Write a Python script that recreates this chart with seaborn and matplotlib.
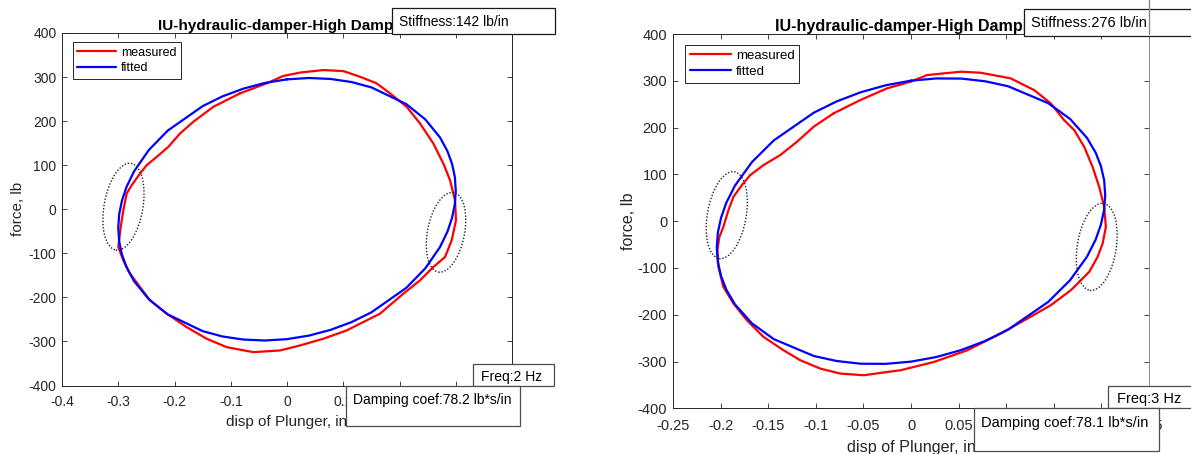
import matplotlib
matplotlib.use("Agg")
import matplotlib.pyplot as plt
import seaborn as sns
import pandas as pd
from matplotlib.patches import Ellipse, Rectangle
from matplotlib.lines import Line2D
from matplotlib.transforms import ScaledTranslation

# ---------------- data ----------------
# Left panel (2 Hz)
left_meas_disp = [-0.0836, -0.0361, -0.0071, 0.0231, 0.0645, 0.1001, 0.1298, 0.1595, 0.1831, 0.2128,
                  0.2364, 0.2601, 0.2779, 0.2898, 0.2987, 0.3004, 0.2928, 0.2809, 0.2601, 0.2364,
                  0.2068, 0.1653, 0.1239, 0.1061, 0.0645, 0.0231, -0.0124, -0.0599, -0.1072, -0.1428,
                  -0.1783, -0.2139, -0.2436, -0.2613, -0.2791, -0.2910, -0.2999, -0.2956, -0.2910, -0.2850,
                  -0.2761, -0.2613, -0.2494, -0.2316, -0.2110, -0.1902, -0.1666, -0.1310, -0.0836]
left_meas_force = [263.0, 285.7, 302.3, 310.2, 315.9, 313.6, 300.7, 285.7, 263.0, 232.5,
                   194.8, 149.3, 103.9, 65.9, 20.5, -25.0, -70.5, -108.4, -131.1, -161.4,
                   -191.6, -237.0, -263.6, -275.0, -293.9, -309.1, -320.5, -324.3, -313.0, -293.9,
                   -267.5, -237.0, -206.8, -176.6, -146.1, -115.9, -85.7, -40.2, -2.3, 35.7,
                   54.5, 81.1, 100.0, 118.9, 141.6, 172.0, 198.4, 232.5, 263.0]
left_fit_disp = [0.0, 0.0392, 0.0776, 0.1148, 0.15, 0.2121, 0.2458, 0.2719, 0.2853, 0.2934,
                 0.2984, 0.3, 0.2984, 0.2934, 0.2853, 0.2719, 0.2458, 0.2121, 0.15, 0.1148,
                 0.0776, 0.0392, 0.0, -0.0392, -0.0776, -0.1148, -0.15, -0.2121, -0.2458, -0.2719,
                 -0.2853, -0.2934, -0.2984, -0.3, -0.2984, -0.2934, -0.2853, -0.2719, -0.2458, -0.2121,
                 -0.15, -0.1148, -0.0776, -0.0392, 0.0]
left_fit_force = [294.8, 297.9, 295.7, 288.7, 276.6, 238.6, 204.0, 163.2, 131.6, 103.0,
                  73.2, 42.6, 11.6, -19.6, -50.6, -86.0, -134.2, -178.4, -234.0, -256.1,
                  -273.7, -286.7, -294.8, -297.9, -295.7, -288.7, -276.6, -238.6, -204.0, -163.2,
                  -131.6, -103.0, -73.2, -42.6, -11.6, 19.6, 50.6, 86.0, 134.2, 178.4,
                  234.0, 256.1, 273.7, 286.7, 294.8]

# Right panel (3 Hz)
right_meas_disp = [-0.0813, -0.0532, -0.0251, -0.0005, 0.0171, 0.0521, 0.0732, 0.1047, 0.1293, 0.1468,
                   0.1608, 0.1714, 0.1819, 0.1907, 0.1977, 0.2029, 0.2047, 0.2013, 0.1960, 0.1872,
                   0.1679, 0.1468, 0.1223, 0.0942, 0.0592, 0.0240, -0.0111, -0.0251, -0.0497, -0.0742,
                   -0.0953, -0.1163, -0.1339, -0.1549, -0.1724, -0.1865, -0.1971, -0.2023, -0.2034, -0.2013,
                   -0.1971, -0.1918, -0.1865, -0.1777, -0.1689, -0.1549, -0.1374, -0.1198, -0.1023, -0.0813]
right_meas_force = [230.4, 258.8, 283.9, 298.0, 312.3, 319.4, 317.2, 305.2, 280.2, 251.8,
                    216.0, 194.7, 158.9, 116.1, 73.4, 30.6, -12.2, -47.7, -76.4, -108.4,
                    -147.6, -179.7, -208.1, -240.2, -275.9, -301.0, -318.7, -322.4, -329.4, -325.8,
                    -315.1, -297.3, -275.9, -247.5, -211.8, -176.0, -140.5, -97.8, -62.0, -33.6,
                    -12.2, 23.5, 52.0, 77.0, 98.4, 119.8, 141.2, 169.6, 201.7, 230.4]
right_fit_disp = [0.0, 0.0266, 0.0528, 0.0781, 0.102, 0.1442, 0.1671, 0.1849, 0.1940, 0.1995,
                  0.2029, 0.204, 0.2029, 0.1995, 0.1940, 0.1849, 0.1671, 0.1442, 0.102, 0.0781,
                  0.0528, 0.0266, 0.0, -0.0266, -0.0528, -0.0781, -0.102, -0.1442, -0.1671, -0.1849,
                  -0.1940, -0.1995, -0.2029, -0.204, -0.2029, -0.1995, -0.1940, -0.1849, -0.1671, -0.1442,
                  -0.102, -0.0781, -0.0528, -0.0266, 0.0]
right_fit_force = [300.3, 305.0, 304.7, 298.9, 288.3, 252.1, 218.4, 177.9, 146.3, 117.5,
                   87.4, 56.3, 24.6, -7.3, -39.3, -75.9, -126.2, -172.5, -231.9, -255.9,
                   -275.5, -290.4, -300.3, -305.0, -304.7, -298.9, -288.3, -252.1, -218.4, -177.9,
                   -146.3, -117.5, -87.4, -56.3, -24.6, 7.3, 39.3, 75.9, 126.2, 172.5,
                   231.9, 255.9, 275.5, 290.4, 300.3]

# tick values / labels (labels hidden under the text boxes are left blank)
left_xticks = [-0.4, -0.3, -0.2, -0.1, 0.0, 0.1, 0.2, 0.3, 0.4]
left_xticklabels = ["-0.4", "-0.3", "-0.2", "-0.1", "0", "0.1", "", "", ""]
right_xticks = [-0.25, -0.2, -0.15, -0.1, -0.05, 0.0, 0.05, 0.1, 0.15, 0.2, 0.25]
right_xticklabels = ["-0.25", "-0.2", "-0.15", "-0.1", "-0.05", "0", "0.05", "", "", "", "0.25"]
yticks = [-400, -300, -200, -100, 0, 100, 200, 300, 400]
yticklabels = ["-400", "-300", "-200", "-100", "0", "100", "200", "300", "400"]

titles = ["IU-hydraulic-damper-High Damping", "IU-hydraulic-damper-High Damping"]
stiffness_texts = ["Stiffness:142 lb/in", "Stiffness:276 lb/in"]
freq_texts = ["Freq:2 Hz", "Freq:3 Hz"]
damping_texts = ["Damping coef:78.2 lb*s/in", "Damping coef:78.1 lb*s/in"]
# centres of the dotted marker ellipses (disp, force)
left_marks = [(-0.2907, 5.7), (0.2827, -52.3)]
right_marks = [(-0.1935, 12.8), (0.1951, -55.0)]

# ---------------- style ----------------
sns.set_theme(style="white")
plt.rcParams["font.family"] = ["Liberation Sans", "DejaVu Sans"]
plt.rcParams["axes.unicode_minus"] = False

W, H = 1191, 454
fig = plt.figure(figsize=(W / 100, H / 100), dpi=100)
TXT = "#262626"


def fig_rect(x0, y0, x1, y1):
    return [x0 / W, 1 - y1 / H, (x1 - x0) / W, (y1 - y0) / H]


def add_box(x0, y0, x1, y1, ec):
    r = Rectangle((x0 / W, 1 - y1 / H), (x1 - x0) / W, (y1 - y0) / H,
                  transform=fig.transFigure, facecolor="white", edgecolor=ec,
                  linewidth=0.9, zorder=5)
    fig.add_artist(r)


def add_label(x, y, s, size):
    fig.text(x / W, 1 - y / H, s, ha="left", va="center", fontsize=size,
             color="black", zorder=6)


def add_mark(ax, cx, cy, w_px, h_px, ang):
    tr = fig.dpi_scale_trans + ScaledTranslation(cx, cy, ax.transData)
    e = Ellipse((0, 0), w_px / 100, h_px / 100, angle=ang, transform=tr,
                fill=False, linestyle=(0, (1, 1.3)), linewidth=1.0,
                edgecolor="#222222", zorder=4)
    ax.add_artist(e)


panels = [
    dict(rect=(62, 33, 512, 385.5), s=1.0,
         meas=(left_meas_disp, left_meas_force), fit=(left_fit_disp, left_fit_force),
         xlim=(-0.4, 0.4), xt=left_xticks, xtl=left_xticklabels,
         leg=(72.7, 42.3), marks=left_marks, mark_sz=[(38.8, 88, -10), (37, 81, -11)],
         stiff=(392, 8.3, 554.5, 34, 399, 22.3),
         freq=(473.3, 364.3, 554, 386.3, 480.7, 377.5),
         damp=(345.7, 386.3, 520, 425.7, 352.7, 400),
         ylpad=2.5, xlpad=4.5, tpad=2.5),
    dict(rect=(673, 34, 1149, 408.3), s=1.056,
         meas=(right_meas_disp, right_meas_force), fit=(right_fit_disp, right_fit_force),
         xlim=(-0.25, 0.25), xt=right_xticks, xtl=right_xticklabels,
         leg=(685, 45), marks=right_marks, mark_sz=[(38.8, 88, -10), (39, 88, -9)],
         stiff=(1024, 9, 1196, 36, 1030.8, 23.3),
         freq=(1108.3, 385.7, 1196, 408.3, 1116.7, 399.5),
         damp=(974, 408.3, 1159.3, 451, 980.7, 423.3),
         ylpad=1.5, xlpad=5.5, tpad=2.3),
]

for i, p in enumerate(panels):
    ax = fig.add_axes(fig_rect(*p["rect"]))
    s = p["s"]
    mdf = pd.DataFrame({"disp": p["meas"][0], "force": p["meas"][1]})
    fdf = pd.DataFrame({"disp": p["fit"][0], "force": p["fit"][1]})
    sns.lineplot(data=mdf, x="disp", y="force", sort=False, estimator=None,
                 color="#ff0000", linewidth=1.6, label="measured", ax=ax)
    sns.lineplot(data=fdf, x="disp", y="force", sort=False, estimator=None,
                 color="#0000ff", linewidth=1.6, label="fitted", ax=ax)
    for line in ax.get_lines():
        line.set_solid_joinstyle("round")
        line.set_solid_capstyle("round")

    ax.set_xlim(*p["xlim"])
    ax.set_ylim(-400, 400)
    ax.set_xticks(p["xt"], p["xtl"])
    ax.set_yticks(yticks, yticklabels)
    ax.tick_params(direction="in", length=3.5, width=0.6, top=True, right=True,
                   bottom=True, left=True, colors=TXT, labelsize=10 * s)
    ax.tick_params(axis="x", pad=7 * s)
    ax.tick_params(axis="y", pad=4 * s)
    for sp in ax.spines.values():
        sp.set_color(TXT)
        sp.set_linewidth(0.7)
    if i == 1:
        ax.spines["right"].set_color("#8a8a8a")
    ax.set_xlabel("disp of Plunger, in", fontsize=11 * s, color=TXT, labelpad=p["xlpad"])
    ax.set_ylabel("force, lb", fontsize=11 * s, color=TXT, labelpad=p["ylpad"])
    ax.set_title(titles[i], fontsize=11 * s, fontweight="bold", color="black", pad=p["tpad"])

    x0, y0, x1, y1 = p["rect"]
    lx, ly = p["leg"]
    leg = ax.legend(loc="upper left",
                    bbox_to_anchor=((lx - x0) / (x1 - x0), 1 - (ly - y0) / (y1 - y0)),
                    borderaxespad=0, frameon=True, fancybox=False, framealpha=1,
                    edgecolor=TXT, fontsize=9 * s, handlelength=3.1,
                    handletextpad=0.4, borderpad=0.35, labelspacing=0.3)
    leg.get_frame().set_linewidth(0.7)
    for t in leg.get_texts():
        t.set_color("black")

    for (cx, cy), (w, h, a) in zip(p["marks"], p["mark_sz"]):
        add_mark(ax, cx, cy, w, h, a)

    bx0, by0, bx1, by1, tx, ty = p["stiff"]
    add_box(bx0, by0, bx1, by1, "#1a1a1a")
    add_label(tx, ty, stiffness_texts[i], 10 * s)
    bx0, by0, bx1, by1, tx, ty = p["freq"]
    add_box(bx0, by0, bx1, by1, "#4d4d4d")
    add_label(tx, ty, freq_texts[i], 10 * s)
    bx0, by0, bx1, by1, tx, ty = p["damp"]
    add_box(bx0, by0, bx1, by1, "#4d4d4d")
    add_label(tx, ty, damping_texts[i], 10 * s)

# thin gray window edge above the right panel
fig.add_artist(Line2D([1149.3 / W, 1149.3 / W], [1.0, 1 - 34 / H], transform=fig.transFigure,
                      color="#8a8a8a", linewidth=1.0, zorder=7))

fig.savefig("out.png", dpi=100)
